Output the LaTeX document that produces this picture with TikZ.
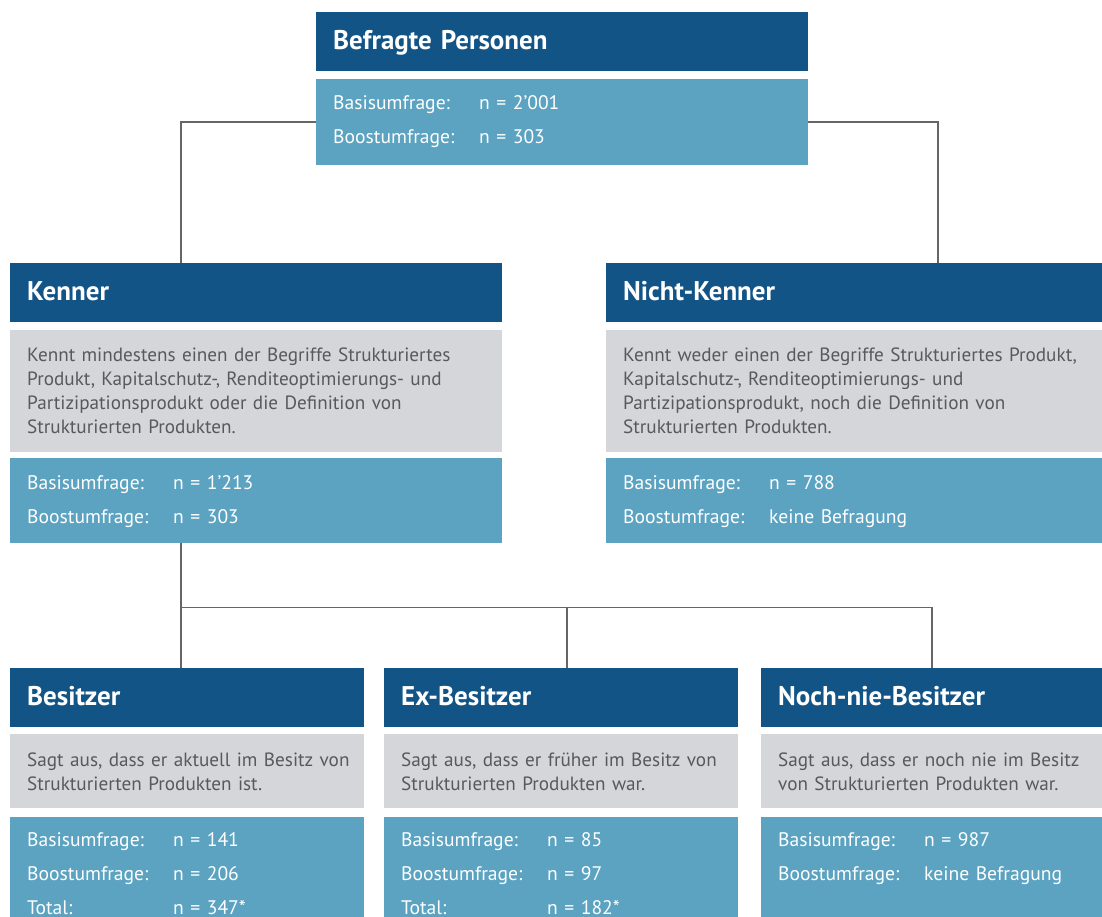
\documentclass[tikz,border=0pt]{standalone}
\usepackage{fontspec}
\setmainfont{PT Sans}
\usetikzlibrary{calc}
\definecolor{Head}{HTML}{135487}
\definecolor{Data}{HTML}{5BA3C1}
\definecolor{Desc}{HTML}{D4D6DA}
\definecolor{DescText}{HTML}{58595B}
\definecolor{Link}{HTML}{666666}
\newcommand{\umf}[2]{\makebox[146pt][l]{#1}#2}
\begin{document}
\begin{tikzpicture}[x=1pt,y=-1pt,
  head/.style={fill=Head,text=white,font=\bfseries\fontsize{27}{32}\selectfont,anchor=north west,inner xsep=17pt,inner ysep=0pt,align=left,text height=37pt,text depth=22pt},
  desc/.style={fill=Desc,text=DescText,font=\fontsize{19.2}{24}\selectfont,anchor=north west,inner xsep=17pt,inner ysep=0pt,align=left},
  data/.style={fill=Data,text=white,font=\fontsize{19.6}{34}\selectfont,anchor=north west,inner xsep=17pt,inner ysep=0pt,align=left},
  link/.style={draw=Link,line width=1.8pt}]
  \useasboundingbox (0,0) rectangle (1102,917);
  \node[head,text width=458pt] (befragt) at (316,12) {Befragte Personen};
  \node[data,text width=458pt,text height=30pt,text depth=56pt] (befragtdata) at (316,79) {\umf{Basisumfrage:}{n = 2’001}\\\umf{Boostumfrage:}{n = 303}};

  \node[head,text width=458pt] (kenner) at (10,263) {Kenner};
  \node[desc,text width=458pt,text height=31pt,text depth=91pt] (kennerdesc) at (10,330) {\mbox{Kennt mindestens einen der Begriffe Strukturiertes}\\\mbox{Produkt, Kapitalschutz-, Renditeoptimierungs- und}\\Partizipationsprodukt oder die Definition von\\Strukturierten Produkten.};
  \node[data,text width=458pt,text height=31pt,text depth=54pt] (kennerdata) at (10,458) {\umf{Basisumfrage:}{n = 1’213}\\\umf{Boostumfrage:}{n = 303}};

  \node[head,text width=462pt] (nkenner) at (606,263) {Nicht-Kenner};
  \node[desc,text width=462pt,text height=31pt,text depth=91pt] (nkennerdesc) at (606,330) {\mbox{Kennt weder einen der Begriffe Strukturiertes Produkt,}\\Kapitalschutz-, Renditeoptimierungs- und\\Partizipationsprodukt, noch die Definition von\\Strukturierten Produkten.};
  \node[data,text width=462pt,text height=31pt,text depth=54pt] (nkennerdata) at (606,458) {\umf{Basisumfrage:}{n = 788}\\\umf{Boostumfrage:}{keine Befragung}};

  \node[head,text width=320pt] (besitzer) at (10,668) {Besitzer};
  \node[desc,text width=320pt,text height=32pt,text depth=42pt] (besitzerdesc) at (10,734) {\mbox{Sagt aus, dass er aktuell im Besitz von}\\Strukturierten Produkten ist.};
  \node[data,text width=320pt,text height=29pt,text depth=71pt] (besitzerdata) at (10,817) {\umf{Basisumfrage:}{n = 141}\\\umf{Boostumfrage:}{n = 206}\\\umf{Total:}{n = 347*}};

  \node[head,text width=320pt] (exbesitzer) at (384,668) {Ex-Besitzer};
  \node[desc,text width=320pt,text height=32pt,text depth=42pt] (exbesitzerdesc) at (384,734) {\mbox{Sagt aus, dass er früher im Besitz von}\\Strukturierten Produkten war.};
  \node[data,text width=320pt,text height=29pt,text depth=71pt] (exbesitzerdata) at (384,817) {\umf{Basisumfrage:}{n = 85}\\\umf{Boostumfrage:}{n = 97}\\\umf{Total:}{n = 182*}};

  \node[head,text width=307pt] (nie) at (761,668) {Noch-nie-Besitzer};
  \node[desc,text width=307pt,text height=32pt,text depth=42pt] (niedesc) at (761,734) {\mbox{Sagt aus, dass er noch nie im Besitz}\\\mbox{von Strukturierten Produkten war.}};
  \node[data,text width=307pt,text height=29pt,text depth=71pt] (niedata) at (761,817) {\umf{Basisumfrage:}{n = 987}\\\umf{Boostumfrage:}{keine Befragung}};

  \draw[link] (befragtdata.west) -| ($(kenner.north west)+(171,0)$);
  \draw[link] (befragtdata.east) -| ($(nkenner.north west)+(332,0)$);
  \coordinate (split) at ($(kennerdata.south west)+(171,64)$);
  \coordinate (exdrop) at ($(exbesitzer.north west)+(183,0)$);
  \draw[link] ($(kennerdata.south west)+(171,0)$) -- ($(besitzer.north west)+(171,0)$);
  \draw[link] (split) -| ($(nie.north west)+(171,0)$);
  \draw[link] (exdrop |- split) -- (exdrop);
\end{tikzpicture}
\end{document}
